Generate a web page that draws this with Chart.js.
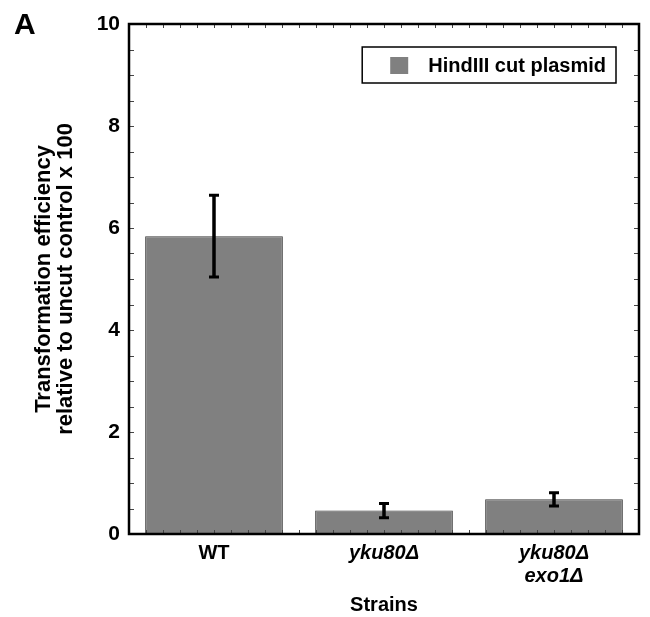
<!DOCTYPE html>
<html><head><meta charset="utf-8">
<script src="https://cdn.jsdelivr.net/npm/chart.js@4/dist/chart.umd.min.js"></script>
<style>html,body{margin:0;padding:0;background:#fff;}#wrap{width:650px;height:617px;}</style>
</head><body><div id="wrap"><canvas id="c" width="650" height="617"></canvas></div>
<script>
const categories = ['WT', 'yku80Δ', ['yku80Δ', 'exo1Δ']];
const italicCats = [false, true, true];
const values = [5.84, 0.46, 0.68];
const errors = [0.80, 0.14, 0.13];
const yTicks = [0, 2, 4, 6, 8, 10];
const seriesLabel = 'HindIII cut plasmid';
const panelLabel = 'A';
const xTitle = 'Strains';
const yTitle = ['Transformation efficiency', 'relative to uncut control x 100'];

const FF = "'Liberation Sans', Arial, Helvetica, sans-serif";

const decor = {
  id: 'decor',
  afterDatasetsDraw(chart) {
    const { ctx, chartArea: a, scales: { x, y } } = chart;
    ctx.save();
    // error bars
    ctx.strokeStyle = '#000';
    ctx.lineWidth = 3.5;
    values.forEach((v, i) => {
      const px = x.getPixelForValue(i);
      const yt = y.getPixelForValue(v + errors[i]);
      const yb = y.getPixelForValue(v - errors[i]);
      ctx.beginPath(); ctx.moveTo(px, yt); ctx.lineTo(px, yb); ctx.stroke();
      ctx.lineWidth = 3;
      ctx.beginPath();
      ctx.moveTo(px - 5, yt); ctx.lineTo(px + 5, yt);
      ctx.moveTo(px - 5, yb); ctx.lineTo(px + 5, yb);
      ctx.stroke();
      ctx.lineWidth = 3.5;
    });
    // minor ticks
    ctx.lineWidth = 1;
    ctx.strokeStyle = '#444';
    ctx.beginPath();
    for (let v = y.min; v <= y.max + 1e-9; v += 0.5) {
      const py = Math.round(y.getPixelForValue(v)) + 0.5;
      ctx.moveTo(a.left, py); ctx.lineTo(a.left + 5, py);
      ctx.moveTo(a.right - 5, py); ctx.lineTo(a.right, py);
    }
    const n = categories.length * 10;
    for (let k = 1; k < n; k++) {
      const px = Math.round(a.left + k * (a.right - a.left) / n) + 0.5;
      ctx.moveTo(px, a.top); ctx.lineTo(px, a.top + 4);
      ctx.moveTo(px, a.bottom); ctx.lineTo(px, a.bottom - 4);
    }
    ctx.stroke();
    // frame
    ctx.lineWidth = 2.5;
    ctx.strokeStyle = '#000';
    ctx.strokeRect(a.left, a.top, a.right - a.left, a.bottom - a.top);
    ctx.restore();
  },
  afterDraw(chart) {
    const { ctx, chartArea: a } = chart;
    ctx.save();
    // legend
    ctx.font = 'bold 20px ' + FF;
    const tw = ctx.measureText(seriesLabel).width;
    const bw = 28 + 18 + 20 + tw + 10, bh = 36;
    const bx = a.right - 23 - bw, by = a.top + 23;
    ctx.lineWidth = 1.5;
    ctx.strokeStyle = '#000';
    ctx.strokeRect(bx, by, bw, bh);
    ctx.fillStyle = '#808080';
    ctx.fillRect(bx + 28, by + 10, 18, 17);
    ctx.fillStyle = '#000';
    ctx.textBaseline = 'middle';
    ctx.textAlign = 'left';
    ctx.fillText(seriesLabel, bx + 66, by + bh / 2 + 1);
    // panel label
    ctx.font = 'bold 30px ' + FF;
    ctx.textBaseline = 'alphabetic';
    ctx.fillText(panelLabel, 14, 34);
    ctx.restore();
  }
};

new Chart(document.getElementById('c'), {
  type: 'bar',
  data: {
    labels: categories,
    datasets: [{
      label: seriesLabel,
      data: values,
      backgroundColor: '#808080',
      borderColor: '#3a3a3a',
      borderWidth: 1,
      barPercentage: 0.81,
      categoryPercentage: 1.0
    }]
  },
  options: {
    responsive: false,
    devicePixelRatio: 1,
    animation: false,
    layout: { padding: { top: 24, right: 11, left: 0, bottom: 0 } },
    plugins: { legend: { display: false }, tooltip: { enabled: false } },
    scales: {
      x: {
        grid: { display: false, drawTicks: false },
        border: { display: false },
        ticks: {
          color: '#000',
          padding: 8,
          maxRotation: 0,
          autoSkip: false,
          font: (ctx) => ({ family: FF, size: 20, weight: 'bold', style: italicCats[ctx.index] ? 'italic' : 'normal', lineHeight: 1.15 })
        },
        title: { display: true, text: xTitle, color: '#000', font: { family: FF, size: 20, weight: 'bold', lineHeight: 1.2 }, padding: { top: 0, bottom: 0 } },
        afterFit: (s) => { s.height = 83; }
      },
      y: {
        min: 0, max: 10,
        afterBuildTicks: (s) => { s.ticks = yTicks.map(v => ({ value: v })); },
        grid: { display: false, drawTicks: false },
        border: { display: false },
        ticks: { color: '#000', padding: 9, font: { family: FF, size: 21, weight: 'bold' } },
        title: { display: true, text: yTitle, color: '#000', font: { family: FF, size: 22, weight: 'bold', lineHeight: 1.0 }, padding: { top: 33, bottom: 0 } },
        afterFit: (s) => { s.width = 129; }
      }
    }
  },
  plugins: [decor]
});
</script>
</body></html>
